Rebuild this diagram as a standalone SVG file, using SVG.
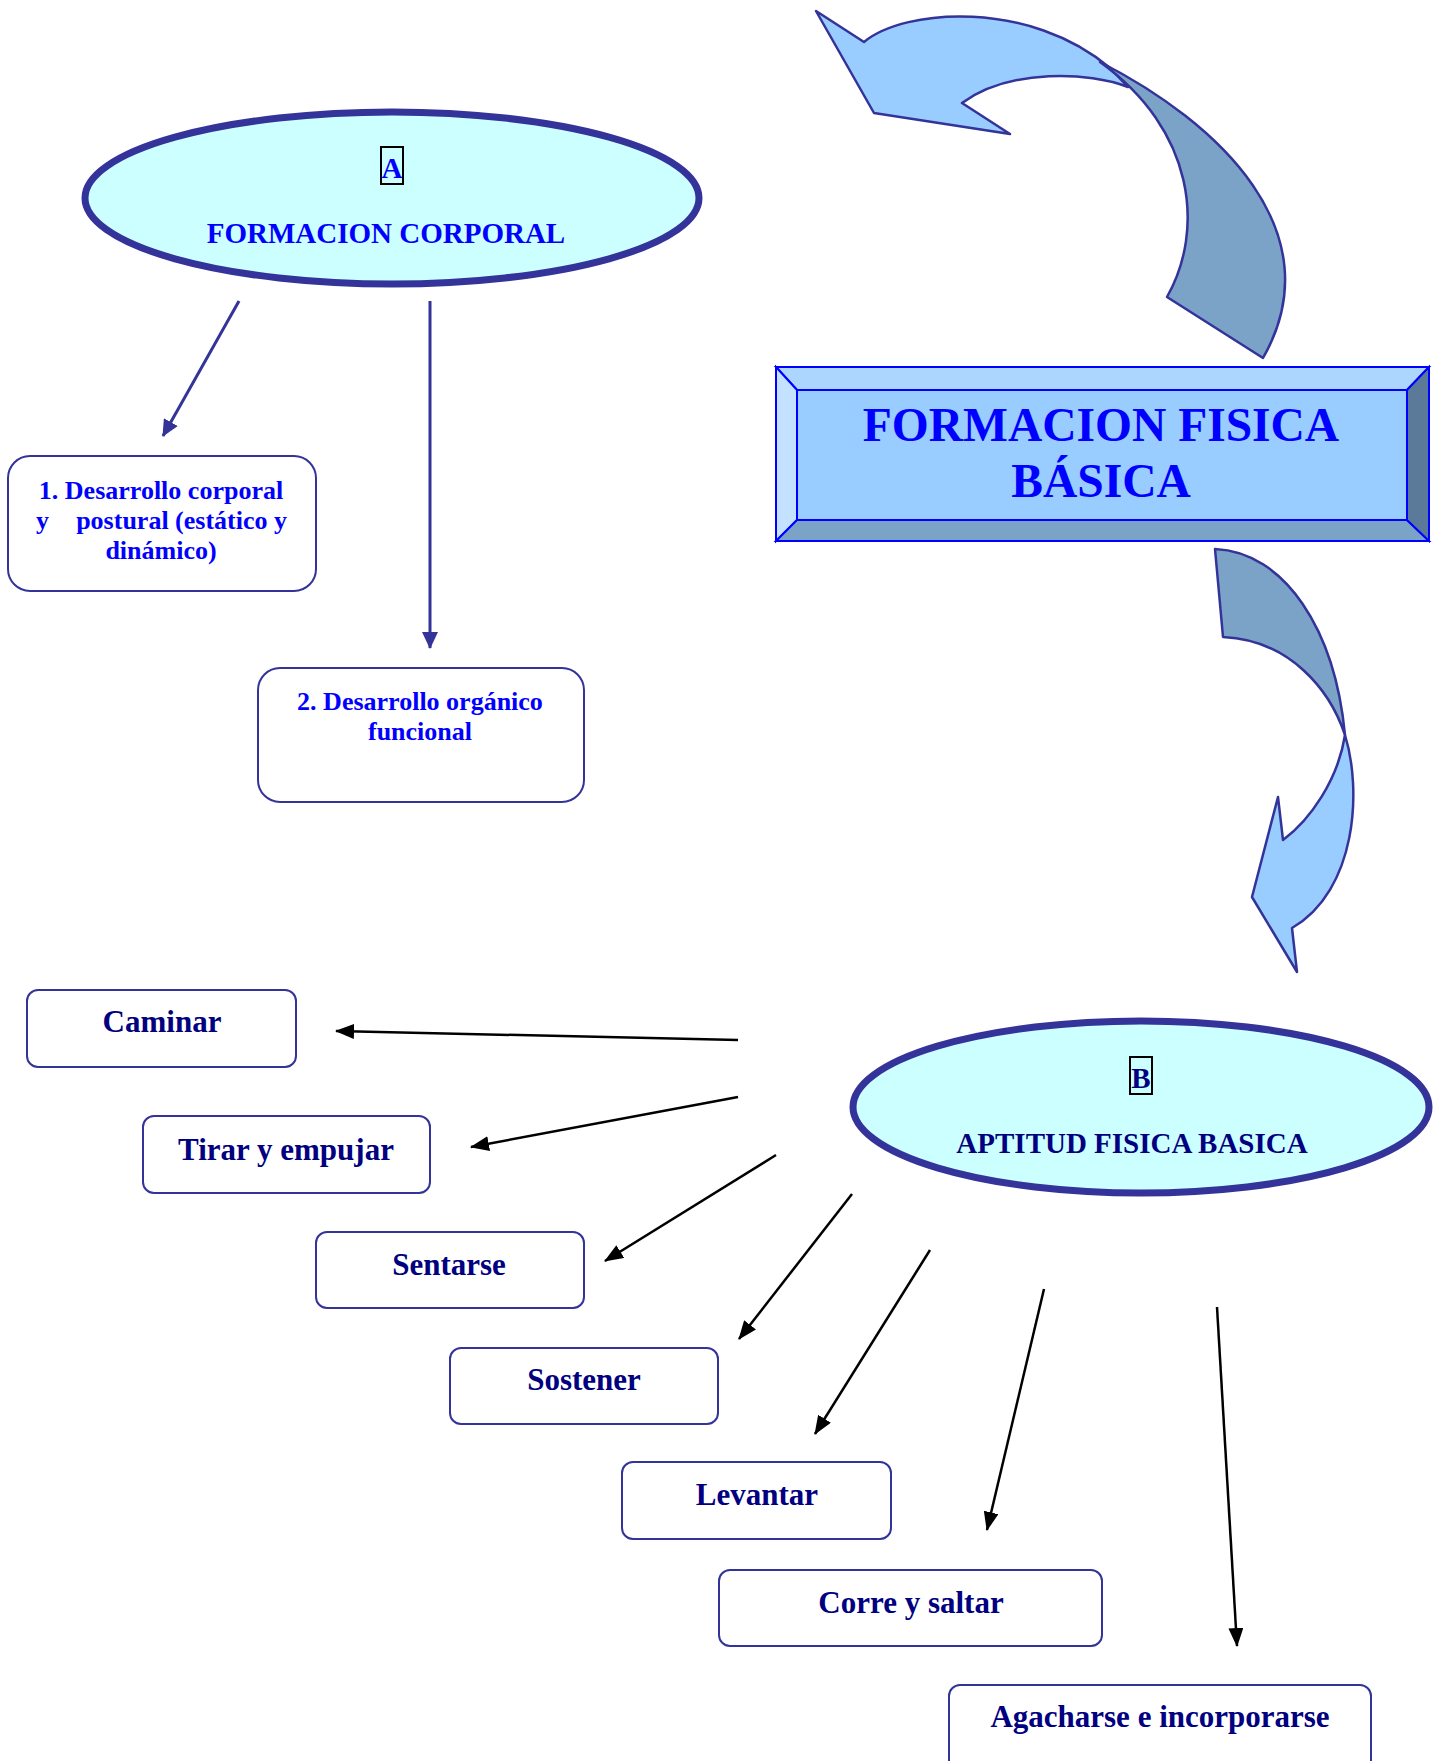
<svg xmlns="http://www.w3.org/2000/svg" width="1442" height="1761" viewBox="0 0 1442 1761">
<defs>
<style>
.t{font-family:"Liberation Serif","Times New Roman",serif;font-weight:bold}
.blue{fill:#0000FF}
.navy{fill:#000080}
.box{fill:#FFFFFF;stroke:#333399;stroke-width:2}
.ell{fill:#CCFFFF;stroke:#333399;stroke-width:7}
.lbl{fill:none;stroke:#000000;stroke-width:2}
.ca{fill:none;stroke:#333399;stroke-width:3}
.cb{fill:none;stroke:#000000;stroke-width:2.5}
.bev{stroke:#0000FF;stroke-width:2;stroke-linejoin:miter}
.arr{stroke:#333399;stroke-width:2.5;stroke-linejoin:round}
</style>
<marker id="ab" markerUnits="userSpaceOnUse" markerWidth="17" markerHeight="16" refX="16" refY="8" orient="auto">
<path d="M0,0 L17,8 L0,16 z" fill="#333399"/>
</marker>
<marker id="ak" markerUnits="userSpaceOnUse" markerWidth="19" markerHeight="15" refX="18" refY="7.5" orient="auto">
<path d="M0,0 L19,7.5 L0,15 z" fill="#000000"/>
</marker>
</defs>
<rect width="1442" height="1761" fill="#FFFFFF"/>

<g id="curved-arrow-top">
<path class="arr" fill="#99CCFF" d="M816,11 L864,42 C905,8 1030,0 1110,68 L1128,87 C1090,72 1010,68 962,103 L1010,134 L874,113 Z"/>
<path class="arr" fill="#7BA3C8" d="M1100,62 C1218,122 1335,232 1263,358 L1167,297 C1205,230 1195,130 1100,62 Z"/>
</g>

<g id="curved-arrow-bottom">
<path class="arr" fill="#7BA3C8" d="M1215,549 C1285,552 1335,630 1345,735 C1330,690 1290,640 1223,637 Z"/>
<path class="arr" fill="#99CCFF" d="M1345,735 C1362,790 1357,890 1292,928 L1297,972 L1252,897 L1278,797 L1283,840 C1310,820 1338,780 1345,735 Z"/>
</g>

<g id="formacion-fisica-basica">
<polygon class="bev" fill="#ADD6FF" points="776,367 1429,367 1407,390 797,390"/>
<polygon class="bev" fill="#C4E2FF" points="776,367 797,390 797,520 776,541"/>
<polygon class="bev" fill="#7BA3C8" points="776,541 797,520 1407,520 1429,541"/>
<polygon class="bev" fill="#5B7A99" points="1429,367 1429,541 1407,520 1407,390"/>
<rect class="bev" fill="#99CCFF" x="797" y="390" width="610" height="130"/>
<text class="t blue" font-size="47.5" text-anchor="middle" x="1101" y="441">FORMACION FISICA</text>
<text class="t blue" font-size="47.5" text-anchor="middle" x="1101" y="497">BÁSICA</text>
</g>

<g id="formacion-corporal">
<ellipse class="ell" cx="392" cy="198" rx="307" ry="86"/>
<rect class="lbl" x="381" y="147" width="22" height="37"/>
<text class="t blue" font-size="29" text-anchor="middle" x="392" y="178">A</text>
<text class="t blue" font-size="29" text-anchor="middle" x="386" y="243">FORMACION CORPORAL</text>
</g>

<g id="desarrollo-corporal">
<rect class="box" x="8" y="456" width="308" height="135" rx="22"/>
<text class="t blue" font-size="26"><tspan x="161" y="499" text-anchor="middle">1. Desarrollo corporal</tspan></text>
<text class="t blue" font-size="26"><tspan x="36" y="529">y</tspan><tspan x="287" y="529" text-anchor="end">postural (estático y</tspan></text>
<text class="t blue" font-size="26" text-anchor="middle" x="161" y="559">dinámico)</text>
</g>

<g id="desarrollo-organico">
<rect class="box" x="258" y="668" width="326" height="134" rx="22"/>
<text class="t blue" font-size="26" text-anchor="middle" x="420" y="710">2. Desarrollo orgánico</text>
<text class="t blue" font-size="26" text-anchor="middle" x="420" y="740">funcional</text>
</g>

<g id="aptitud-fisica-basica">
<ellipse class="ell" cx="1141" cy="1107" rx="288" ry="86"/>
<rect class="lbl" x="1130" y="1057" width="22" height="37"/>
<text class="t navy" font-size="29" text-anchor="middle" x="1141" y="1088">B</text>
<text class="t navy" font-size="29" text-anchor="middle" x="1132" y="1153">APTITUD FISICA BASICA</text>
</g>

<g id="caminar">
<rect class="box" x="27" y="990" width="269" height="77" rx="11"/>
<text class="t navy" font-size="31" text-anchor="middle" x="162" y="1032">Caminar</text>
</g>
<g id="tirar-empujar">
<rect class="box" x="143" y="1116" width="287" height="77" rx="11"/>
<text class="t navy" font-size="31" text-anchor="middle" x="286" y="1160">Tirar y empujar</text>
</g>
<g id="sentarse">
<rect class="box" x="316" y="1232" width="268" height="76" rx="11"/>
<text class="t navy" font-size="31" text-anchor="middle" x="449" y="1275">Sentarse</text>
</g>
<g id="sostener">
<rect class="box" x="450" y="1348" width="268" height="76" rx="11"/>
<text class="t navy" font-size="31" text-anchor="middle" x="584" y="1390">Sostener</text>
</g>
<g id="levantar">
<rect class="box" x="622" y="1462" width="269" height="77" rx="11"/>
<text class="t navy" font-size="31" text-anchor="middle" x="757" y="1505">Levantar</text>
</g>
<g id="corre-saltar">
<rect class="box" x="719" y="1570" width="383" height="76" rx="11"/>
<text class="t navy" font-size="31" text-anchor="middle" x="911" y="1613">Corre y saltar</text>
</g>
<g id="agacharse">
<rect class="box" x="949" y="1685" width="422" height="90" rx="11"/>
<text class="t navy" font-size="31" text-anchor="middle" x="1160" y="1727">Agacharse e incorporarse</text>
</g>

<g id="connectors">
<line class="ca" x1="239" y1="301" x2="163" y2="436" marker-end="url(#ab)"/>
<line class="ca" x1="430" y1="301" x2="430" y2="648" marker-end="url(#ab)"/>
<line class="cb" x1="738" y1="1040" x2="336" y2="1031" marker-end="url(#ak)"/>
<line class="cb" x1="738" y1="1097" x2="471" y2="1147" marker-end="url(#ak)"/>
<line class="cb" x1="776" y1="1155" x2="605" y2="1261" marker-end="url(#ak)"/>
<line class="cb" x1="852" y1="1194" x2="739" y2="1339" marker-end="url(#ak)"/>
<line class="cb" x1="930" y1="1250" x2="815" y2="1434" marker-end="url(#ak)"/>
<line class="cb" x1="1044" y1="1289" x2="987" y2="1530" marker-end="url(#ak)"/>
<line class="cb" x1="1217" y1="1307" x2="1237" y2="1646" marker-end="url(#ak)"/>
</g>
</svg>
